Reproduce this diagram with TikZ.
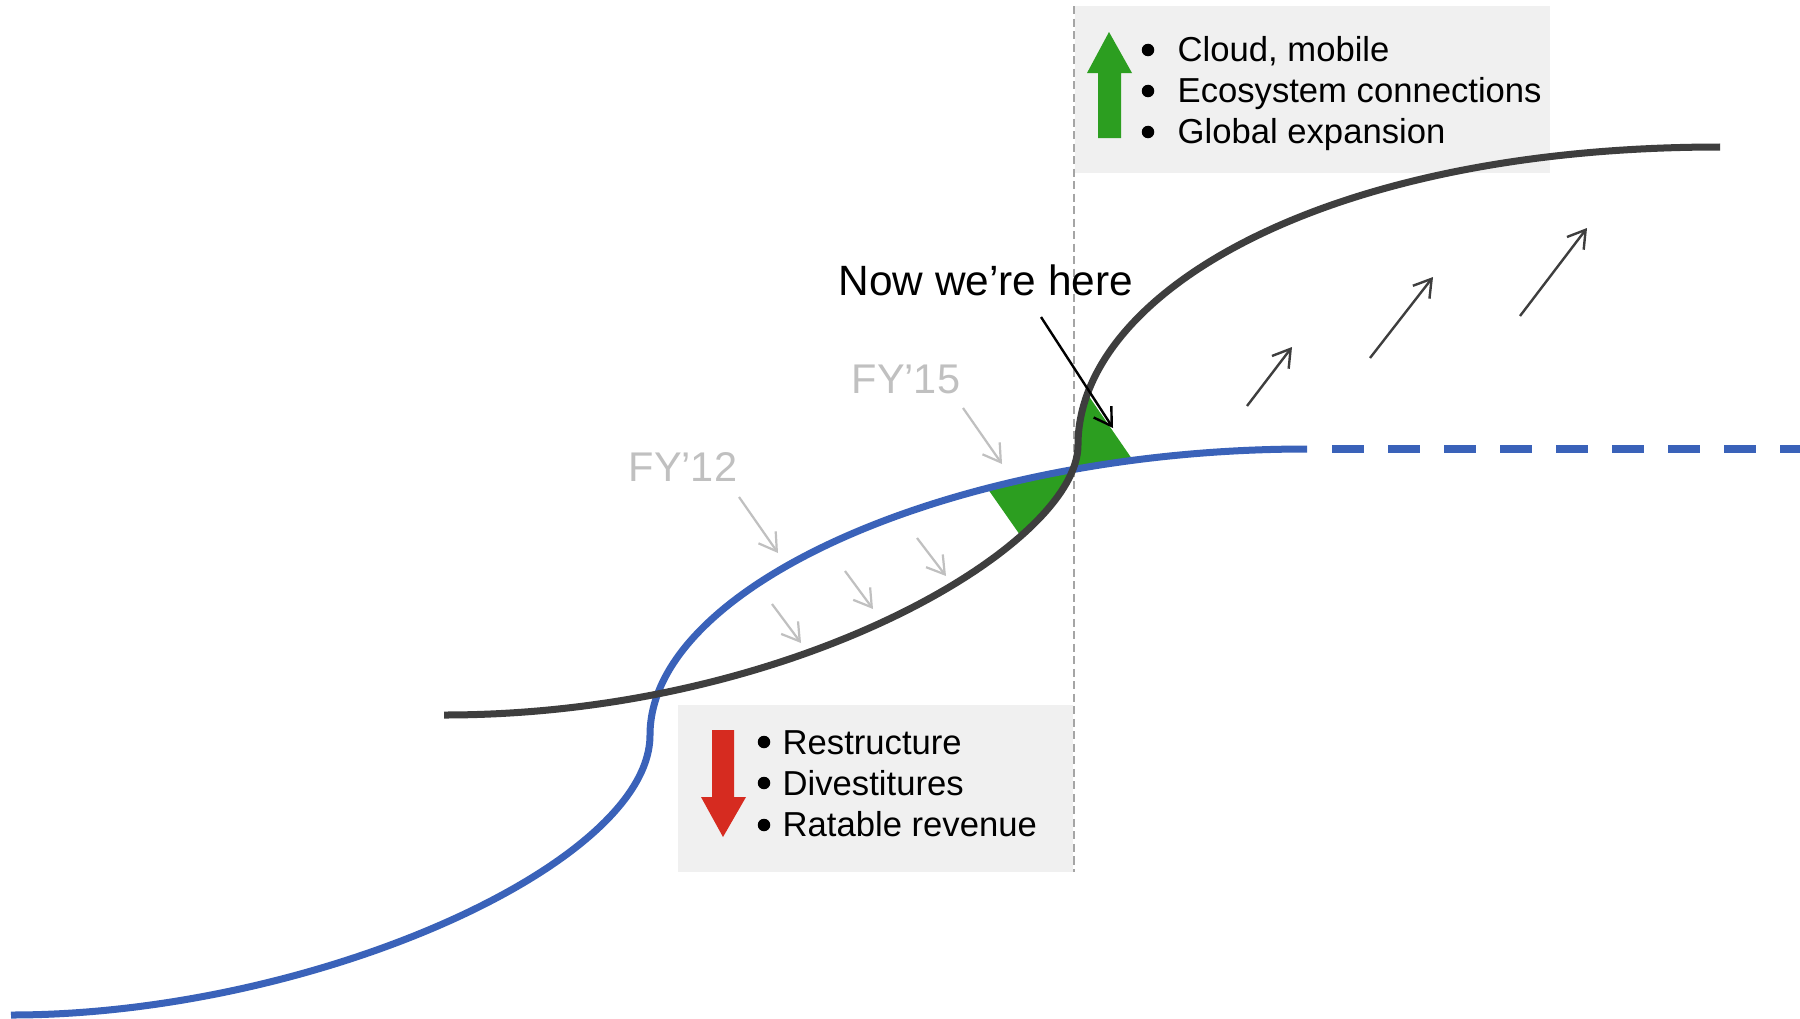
\documentclass[tikz,border=0pt]{standalone}
\usepackage{fontspec}
\setmainfont{Liberation Sans}
\usetikzlibrary{arrows.meta}

\definecolor{curveblue}{RGB}{58,98,185}
\definecolor{curvedark}{RGB}{62,62,62}
\definecolor{upgreen}{RGB}{44,158,32}
\definecolor{downred}{RGB}{214,43,32}
\definecolor{boxgray}{RGB}{240,240,240}
\definecolor{labelgray}{RGB}{192,192,192}
\definecolor{guidegray}{RGB}{165,165,165}

\begin{document}
\begin{tikzpicture}[x=0.01cm,y=-0.01cm,
  bluecurve/.style={draw=curveblue,line width=0.07cm},
  darkcurve/.style={draw=curvedark,line width=0.07cm},
  panel/.style={fill=boxgray},
  guide/.style={draw=guidegray,line width=0.015cm,dash pattern={on 0.08cm off 0.045cm}},
  bullettext/.style={anchor=base west,inner sep=0pt,font=\fontsize{9.85}{11.8}\selectfont},
  bulletdot/.style={circle,fill=black,inner sep=0pt,minimum size=0.125cm},
  yearlabel/.style={anchor=base west,inner sep=0pt,text=labelgray,font=\fontsize{11.8}{14}\selectfont},
  calloutlabel/.style={anchor=base west,inner sep=0pt,font=\fontsize{12.05}{14}\selectfont},
  shiftarrow/.style={draw=labelgray,line width=0.022cm,-{Straight Barb[length=0.17cm,width=0.21cm]}},
  growarrow/.style={draw=curvedark,line width=0.024cm,-{Straight Barb[length=0.17cm,width=0.21cm]}},
  pointer/.style={draw=black,line width=0.024cm,-{Straight Barb[length=0.17cm,width=0.21cm]}},
]

% canvas
\fill[white] (0,0) rectangle (1800,1018);
\useasboundingbox (0,0) rectangle (1800,1018);

% key points of the two S-curves
\coordinate (b0) at (11,1015);
\coordinate (b0c) at (311,1015);
\coordinate (b1c) at (650,865);
\coordinate (b1) at (650,735);
\coordinate (b1d) at (650,585);
\coordinate (b2c) at (957,449);
\coordinate (b2) at (1307,449);
\coordinate (dashstart) at (1332,449);
\coordinate (dashend) at (1800,449);

\coordinate (k0) at (444,715);
\coordinate (k0c) at (794,715);
\coordinate (k1c) at (1078,545);
\coordinate (k1) at (1078,445);
\coordinate (k1d) at (1078,295);
\coordinate (k2c) at (1320,147);
\coordinate (k2) at (1720,147);

% grey panels
\fill[panel] (1075,6) rectangle (1550,173);
\fill[panel] (678,705) rectangle (1073,872);

% vertical divider
\coordinate (guidetop) at (1074,6);
\coordinate (guidebot) at (1074,872);
\draw[guide] (guidetop) -- (guidebot);

% green wedge below the crossing
\begin{scope}
  \clip (b1) .. controls (b1d) and (b2c) .. (b2) -- (1307,1018) -- (650,1018) -- cycle;
  \clip (k0) .. controls (k0c) and (k1c) .. (k1) -- (1078,0) -- (444,0) -- cycle;
  \fill[upgreen] (948,432) -- (1048,575) -- (1100,575) -- (1100,400) -- (948,400) -- cycle;
\end{scope}

% green wedge above the crossing
\begin{scope}
  \clip (b1) .. controls (b1d) and (b2c) .. (b2) -- (1307,0) -- (650,0) -- cycle;
  \clip (k0) .. controls (k0c) and (k1c) .. (k1) .. controls (k1d) and (k2c) .. (k2)
        -- (1800,147) -- (1800,1018) -- (444,1018) -- cycle;
  \fill[upgreen] (1040,370) -- (1070.8,370) -- (1146.5,480) -- (1040,480) -- cycle;
\end{scope}

% blue curve with its dashed continuation
\draw[bluecurve] (b0) .. controls (b0c) and (b1c) .. (b1)
                      .. controls (b1d) and (b2c) .. (b2);
\draw[bluecurve,line width=0.072cm,dash pattern={on 0.315cm off 0.245cm}] (dashstart) -- (dashend);

% dark curve
\draw[darkcurve] (k0) .. controls (k0c) and (k1c) .. (k1)
                      .. controls (k1d) and (k2c) .. (k2);

% up and down block arrows
\fill[upgreen] (1109,32) -- (1132,73) -- (1121,73) -- (1121,138) -- (1098,138)
               -- (1098,73) -- (1087,73) -- cycle;
\fill[downred] (712,730) -- (734,730) -- (734,797) -- (746,797) -- (723,837)
               -- (701,797) -- (712,797) -- cycle;

% bullet lists
\node[bulletdot] (ud1) at (1148,50) {};
\node[bulletdot] (ud2) at (1148,91) {};
\node[bulletdot] (ud3) at (1148,132) {};
\node[bullettext] (ut1) at (1177,61) {Cloud, mobile};
\node[bullettext] (ut2) at (1177,102) {Ecosystem connections};
\node[bullettext] (ut3) at (1177,143) {Global expansion};

\node[bulletdot] (ld1) at (764,742) {};
\node[bulletdot] (ld2) at (764,783) {};
\node[bulletdot] (ld3) at (764,825) {};
\node[bullettext] (lt1) at (782,754) {Restructure};
\node[bullettext] (lt2) at (782,795) {Divestitures};
\node[bullettext] (lt3) at (782,836) {Ratable revenue};

% year labels and their pointers
\node[yearlabel] (fy12) at (628,481) {FY’12};
\node[yearlabel] (fy15) at (851,393) {FY’15};
\coordinate (fy12a) at (739,497);  \coordinate (fy12b) at (778,553);
\coordinate (fy15a) at (963,408);  \coordinate (fy15b) at (1002,464);
\draw[shiftarrow] (fy12a) -- (fy12b);
\draw[shiftarrow] (fy15a) -- (fy15b);

% downward shift between the curves
\coordinate (s1a) at (772,604);  \coordinate (s1b) at (801,643);
\coordinate (s2a) at (845,571);  \coordinate (s2b) at (873,609);
\coordinate (s3a) at (917,538);  \coordinate (s3b) at (946,576);
\draw[shiftarrow] (s1a) -- (s1b);
\draw[shiftarrow] (s2a) -- (s2b);
\draw[shiftarrow] (s3a) -- (s3b);

% upward growth arrows
\coordinate (g1a) at (1247,406);  \coordinate (g1b) at (1292,347);
\coordinate (g2a) at (1370,358);  \coordinate (g2b) at (1433,277);
\coordinate (g3a) at (1520,316);  \coordinate (g3b) at (1587,228);
\draw[growarrow] (g1a) -- (g1b);
\draw[growarrow] (g2a) -- (g2b);
\draw[growarrow] (g3a) -- (g3b);

% current position callout
\node[calloutlabel] (now) at (838,295) {Now we’re here};
\coordinate (nowtail) at (1041,317);
\coordinate (nowtip) at (1113,428);
\draw[pointer] (nowtail) -- (nowtip);

\end{tikzpicture}
\end{document}
